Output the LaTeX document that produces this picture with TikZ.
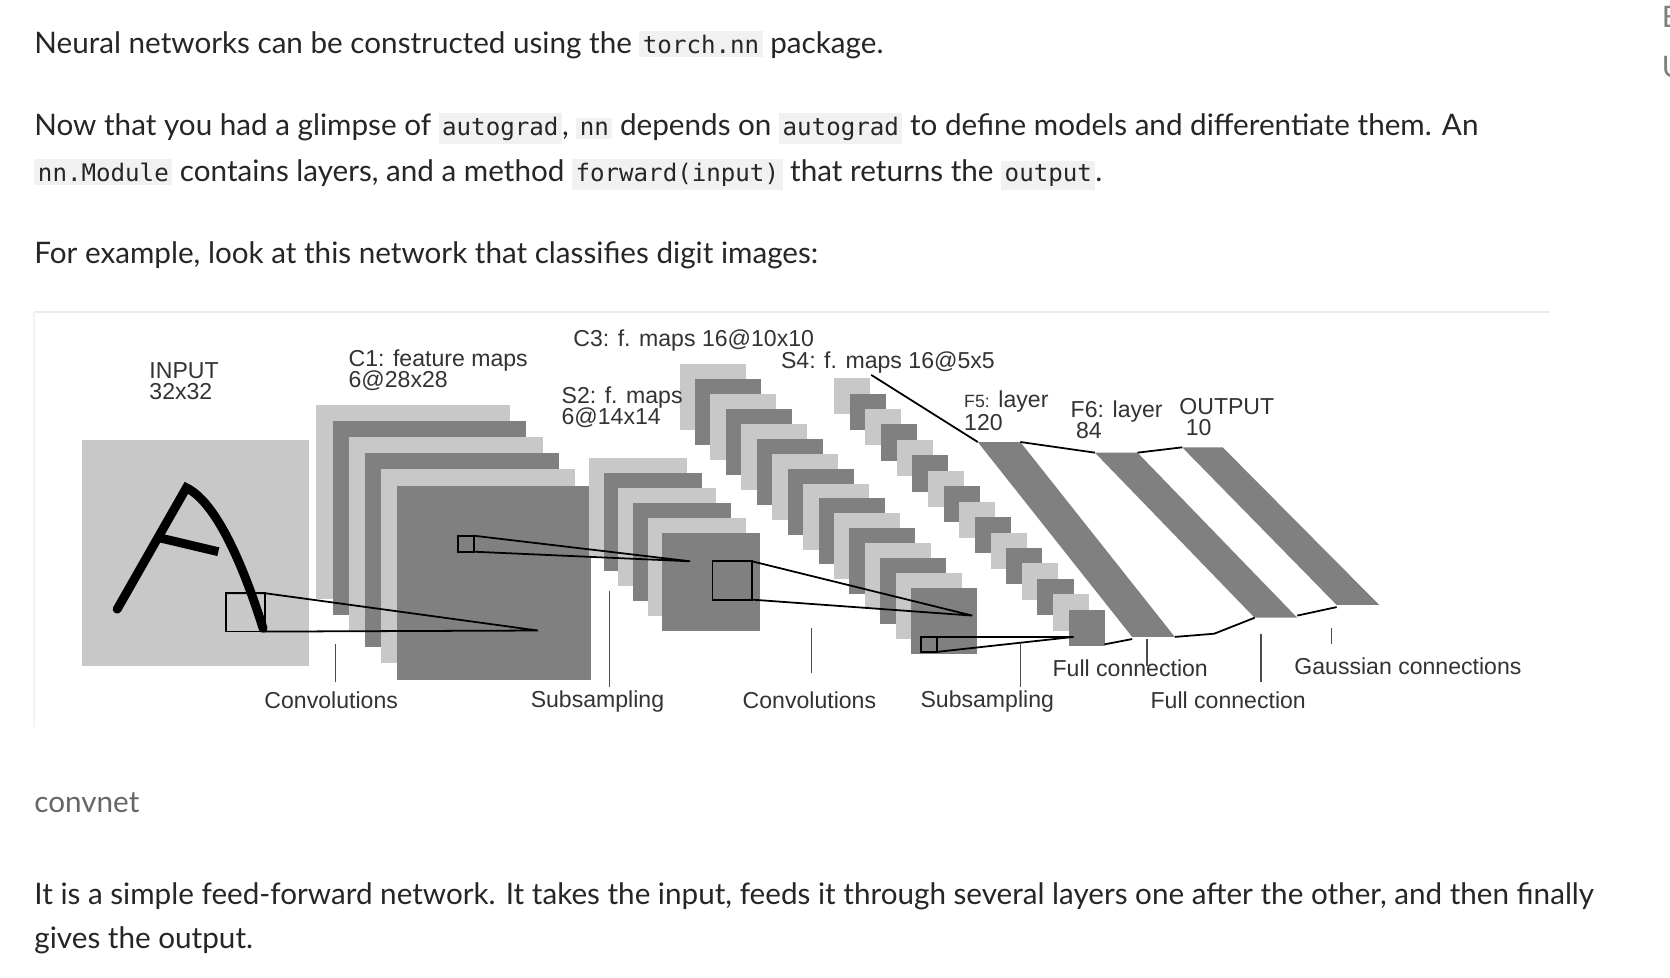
\documentclass[tikz,border=0pt]{standalone}
\usepackage{fontspec}
\setmainfont{Lato}
\newfontfamily\cf{DejaVu Sans Mono}
\newfontfamily\af{Liberation Sans}
\definecolor{codebg}{HTML}{F1F1F1}
\definecolor{lg}{HTML}{C8C8C8}
\definecolor{dg}{HTML}{808080}
\definecolor{txt}{HTML}{262626}
\newcommand\mycode[1]{{\setlength\fboxsep{2pt}\colorbox{codebg}{\fontsize{13.6}{15}\cf\color{txt}#1}}}
\begin{document}
\begin{tikzpicture}[x=0.6pt,y=-0.6pt,
 body/.style={anchor=base west,inner sep=0,text=txt,font=\fontsize{16.7}{19}\selectfont},
 lab/.style={anchor=base west,inner sep=0,font=\af\fontsize{13}{13}\selectfont,text=black!80},
 tick/.style={draw=black!70,line width=0.8pt},
 thin/.style={draw=black,line width=1pt}]
\useasboundingbox[fill=white] (0,0) rectangle (1568,918);
\node[body] (l1) at (32,50) {Neural networks can be constructed using the \mycode{torch.nn} package.};
\node[body] (l2) at (32,127) {Now that you had a glimpse of \mycode{autograd}, \mycode{nn} depends on \mycode{autograd} to define models and differentiate them. An};
\node[body] (l3) at (32,170) {\mycode{nn.Module} contains layers, and a method \mycode{forward(input)} that returns the \mycode{output}.};
\node[body] (l4) at (32,247) {For example, look at this network that classifies digit images:};
\node[body,text=black!60] (cap) at (32,763) {convnet};
\node[body] (l5) at (32,849) {It is a simple feed-forward network. It takes the input, feeds it through several layers one after the other, and then finally};
\node[body] (l6) at (32,891) {gives the output.};
\node[body,text=black!50,anchor=base west] (e) at (1560,26) {E};
\node[body,text=black!50,anchor=base west] (u) at (1560,73) {U};
% diagram frame
\draw[black!8,line width=1pt] (32,293) -- (1455,293);
\draw[black!5,line width=1pt] (32,293) -- (32,683);
% input
\fill[lg] (77,413) rectangle (290,625);
\draw[line width=5pt,line cap=round] (110,572) -- (175,458) .. controls (200,470) and (225,520) .. (247,590);
\draw[line width=5pt] (150,505) -- (205,518);
% C1
\foreach \i in {0,...,5}{\pgfmathtruncatemacro\m{mod(\i,2)}
 \ifnum\m=0 \fill[lg] ({297+15.2*\i},{380+15.2*\i}) rectangle ++(182,182);\else \fill[dg] ({297+15.2*\i},{380+15.2*\i}) rectangle ++(182,182);\fi}
% S2
\foreach \i in {0,...,5}{\pgfmathtruncatemacro\m{mod(\i,2)}
 \ifnum\m=0 \fill[lg] ({553+13.8*\i},{430+14*\i}) rectangle ++(92,92);\else \fill[dg] ({553+13.8*\i},{430+14*\i}) rectangle ++(92,92);\fi}
% C3
\foreach \i in {0,...,15}{\pgfmathtruncatemacro\m{mod(\i,2)}
 \ifnum\m=0 \fill[lg] ({638+14.5*\i},{342+14*\i}) rectangle ++(62,62);\else \fill[dg] ({638+14.5*\i},{342+14*\i}) rectangle ++(62,62);\fi}
% S4
\foreach \i in {0,...,15}{\pgfmathtruncatemacro\m{mod(\i,2)}
 \ifnum\m=0 \fill[lg] ({783+14.7*\i},{355+14.5*\i}) rectangle ++(34,34);\else \fill[dg] ({783+14.7*\i},{355+14.5*\i}) rectangle ++(34,34);\fi}
% receptive fields
\coordinate (p1) at (505,592); \coordinate (p2) at (648,527); \coordinate (p3) at (913,578); \coordinate (p4) at (1008,598);
\draw[thin] (212,557) rectangle (249,593);
\draw[thin] (249,557) -- (p1) (249,593) -- (p1) (212,557) -- (249,557);
\draw[thin] (430,503) rectangle (445,518);
\draw[thin] (445,503) -- (p2) (445,518) -- (p2);
\draw[thin] (669,527) rectangle (706,563);
\draw[thin] (706,527) -- (p3) (706,563) -- (p3);
\draw[thin] (865,598) rectangle (880,612);
\draw[thin] (880,598) -- (p4) (880,612) -- (p4);
% bands
\fill[dg] (918,415) -- (958,415) -- (1103,598) -- (1063,598) -- cycle;
\fill[dg] (1028,425) -- (1068,425) -- (1218,580) -- (1178,580) -- cycle;
\fill[dg] (1110,420) -- (1148,420) -- (1295,568) -- (1255,568) -- cycle;
\draw[thin] (818,352) -- (918,415);
\draw[thin] (958,415) -- (1028,425);
\draw[thin] (1068,425) -- (1110,420);
\draw[thin] (1037,605) -- (1063,600);
\draw[thin] (1103,598) -- (1140,595) -- (1178,580);
\draw[thin] (1218,578) -- (1255,570);
% labels
\node[lab] (ti) at (140,355) {INPUT};
\node[lab] (ti2) at (140,375) {32x32};
\node[lab] (tc1) at (327,344) {C1: feature maps};
\node[lab] (tc1b) at (327,364) {6@28x28};
\node[lab] (ts2) at (527,379) {S2: f. maps};
\node[lab] (ts2b) at (527,399) {6@14x14};
\node[lab] (tc3) at (538,325) {C3: f. maps 16@10x10};
\node[lab] (ts4) at (733,346) {S4: f. maps 16@5x5};
\node[lab] (tf5) at (905,383) {{\fontsize{10}{10}\selectfont F5:} layer};
\node[lab] (tf5b) at (905,404) {120};
\node[lab] (tf6) at (1005,392) {F6: layer};
\node[lab] (tf6b) at (1010,412) {84};
\node[lab] (to) at (1107,389) {OUTPUT};
\node[lab] (tob) at (1113,409) {10};
\node[lab] (b1) at (248,665) {Convolutions};
\node[lab] (b2) at (498,664) {Subsampling};
\node[lab] (b3) at (697,665) {Convolutions};
\node[lab] (b4) at (864,664) {Subsampling};
\node[lab] (b5) at (988,635) {Full connection};
\node[lab] (b6) at (1080,665) {Full connection};
\node[lab] (b7) at (1215,633) {Gaussian connections};
\draw[tick] (315,605) -- (315,640);
\draw[tick] (572,555) -- (572,645);
\draw[tick] (762,590) -- (762,632);
\draw[tick] (958,605) -- (958,645);
\draw[tick] (1077,600) -- (1077,625);
\draw[tick] (1184,595) -- (1184,640);
\draw[tick] (1250,590) -- (1250,605);
\end{tikzpicture}
\end{document}
